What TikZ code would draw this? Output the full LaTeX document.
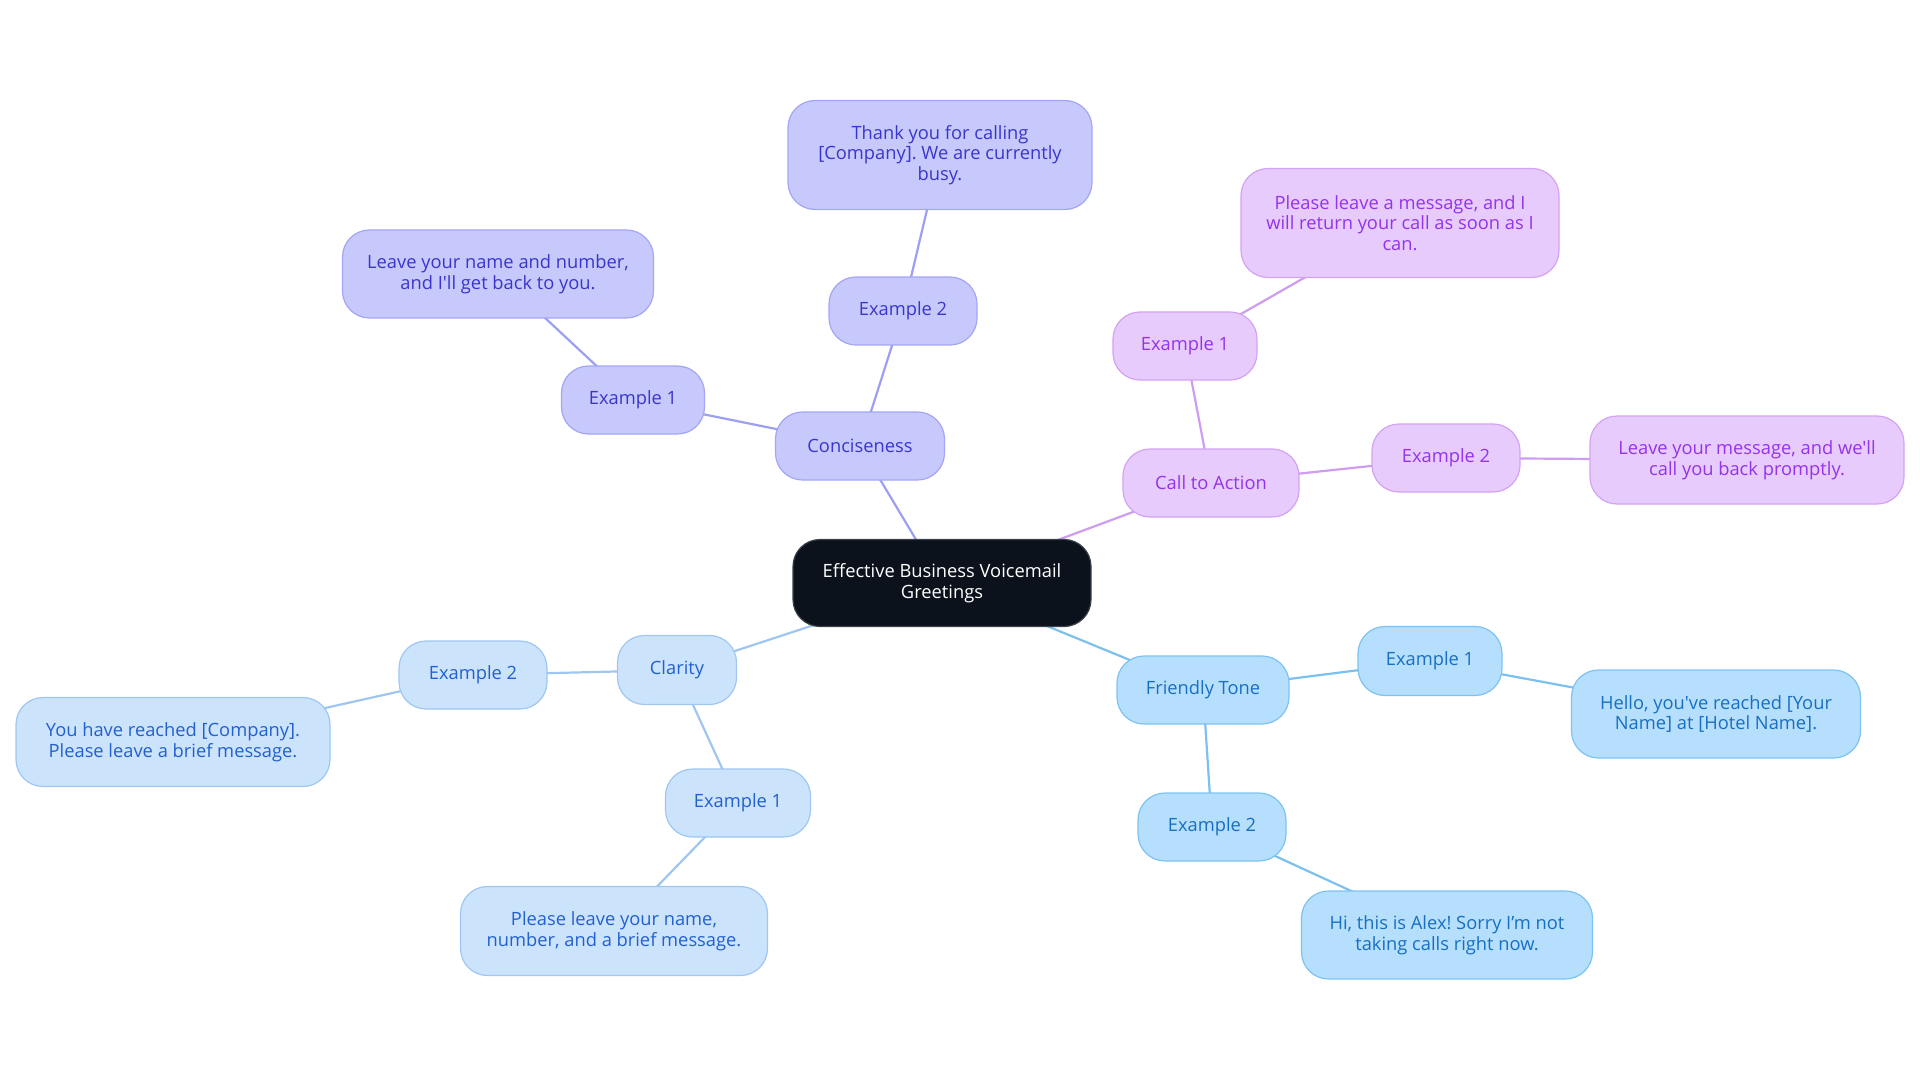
\documentclass[tikz,border=0pt]{standalone}
\usepackage{fontspec}
\setmainfont{Open Sans}[Ligatures=TeXOff]
\usetikzlibrary{backgrounds}
\definecolor{rootfill}{HTML}{0C121C}
\definecolor{rootdraw}{HTML}{3A4049}
\definecolor{indfill}{HTML}{C7C9FC}
\definecolor{inddraw}{HTML}{A3A6F5}
\definecolor{indtext}{HTML}{3A35CC}
\definecolor{indline}{HTML}{9C9FF2}
\definecolor{purfill}{HTML}{E8CBFD}
\definecolor{purdraw}{HTML}{D3A2F3}
\definecolor{purtext}{HTML}{9333EA}
\definecolor{purline}{HTML}{CE9CF1}
\definecolor{skyfill}{HTML}{B5DFFC}
\definecolor{skydraw}{HTML}{7DC3F2}
\definecolor{skytext}{HTML}{186FC2}
\definecolor{skyline}{HTML}{7CC0F0}
\definecolor{clafill}{HTML}{CCE3FC}
\definecolor{cladraw}{HTML}{9FC7F2}
\definecolor{clatext}{HTML}{2260CF}
\definecolor{claline}{HTML}{9FC6F1}
\begin{document}
\frenchspacing
\begin{tikzpicture}[x=1pt,y=-1pt,
  box/.style={rounded corners=27pt, draw, line width=1.2pt, align=center, inner sep=0pt,
    font=\fontsize{18.3}{20.7}\selectfont},
  rootbox/.style={box, fill=rootfill, draw=rootdraw, text=white},
  indbox/.style={box, fill=indfill, draw=inddraw, text=indtext},
  purbox/.style={box, fill=purfill, draw=purdraw, text=purtext},
  skybox/.style={box, fill=skyfill, draw=skydraw, text=skytext},
  clabox/.style={box, fill=clafill, draw=cladraw, text=clatext},
  sz/.style 2 args={minimum width=#1, minimum height=#2},
  link/.style={line width=2.2pt}]
\useasboundingbox (0,0) rectangle (1920,1083);

\node[rootbox, sz={298}{87}] (root) at (942,583) {Effective Business Voicemail\\Greetings};

\node[indbox, sz={169}{68}] (con) at (860,446) {Conciseness};
\node[indbox, sz={143}{68}] (conA) at (633,400) {Example 1};
\node[indbox, sz={148}{68}] (conB) at (903,311) {Example 2};
\node[indbox, sz={311}{88}] (conAL) at (498,274) {Leave your name and number,\\and I'll get back to you.};
\node[indbox, sz={304}{109}] (conBL) at (940,155) {Thank you for calling\\{[Company]}. We are currently\\busy.};

\node[purbox, sz={176}{68}] (cta) at (1211,483) {Call to Action};
\node[purbox, sz={144}{68}] (ctaA) at (1185,346) {Example 1};
\node[purbox, sz={148}{68}] (ctaB) at (1446,458) {Example 2};
\node[purbox, sz={318}{109}] (ctaAL) at (1400,223) {Please leave a message, and I\\will return your call as soon as I\\can.};
\node[purbox, sz={314}{88}] (ctaBL) at (1747,460) {Leave your message, and we'll\\call you back promptly.};

\node[skybox, sz={172}{68}] (ft) at (1203,690) {Friendly Tone};
\node[skybox, sz={144}{69}] (ftA) at (1430,661) {Example 1};
\node[skybox, sz={148}{68}] (ftB) at (1212,827) {Example 2};
\node[skybox, sz={289}{88}] (ftAL) at (1716,714) {Hello, you've reached [Your\\Name] at [Hotel Name].};
\node[skybox, sz={291}{88}] (ftBL) at (1447,935) {Hi, this is Alex! Sorry I’m not\\taking calls right now.};

\node[clabox, sz={119}{69}] (cla) at (677,670) {Clarity};
\node[clabox, sz={148}{68}] (claB) at (473,675) {Example 2};
\node[clabox, sz={145}{68}] (claA) at (738,803) {Example 1};
\node[clabox, sz={314}{89}] (claBL) at (173,742) {You have reached [Company].\\Please leave a brief message.};
\node[clabox, sz={307}{89}] (claAL) at (614,931) {Please leave your name,\\number, and a brief message.};

\begin{scope}[on background layer]
\draw[link, indline] (root.center) -- (con.center);
\draw[link, indline] (con.center) -- (conA.center);
\draw[link, indline] (con.center) -- (conB.center);
\draw[link, indline] (conA.center) -- (conAL.center);
\draw[link, indline] (conB.center) -- (conBL.center);
\draw[link, purline] (root.center) -- (cta.center);
\draw[link, purline] (cta.center) -- (ctaA.center);
\draw[link, purline] (cta.center) -- (ctaB.center);
\draw[link, purline] (ctaA.center) -- (ctaAL.center);
\draw[link, purline] (ctaB.center) -- (ctaBL.center);
\draw[link, skyline] (root.center) -- (ft.center);
\draw[link, skyline] (ft.center) -- (ftA.center);
\draw[link, skyline] (ft.center) -- (ftB.center);
\draw[link, skyline] (ftA.center) -- (ftAL.center);
\draw[link, skyline] (ftB.center) -- (ftBL.center);
\draw[link, claline] (root.center) -- (cla.center);
\draw[link, claline] (cla.center) -- (claB.center);
\draw[link, claline] (cla.center) -- (claA.center);
\draw[link, claline] (claB.center) -- (claBL.center);
\draw[link, claline] (claA.center) -- (claAL.center);
\end{scope}
\end{tikzpicture}
\end{document}
